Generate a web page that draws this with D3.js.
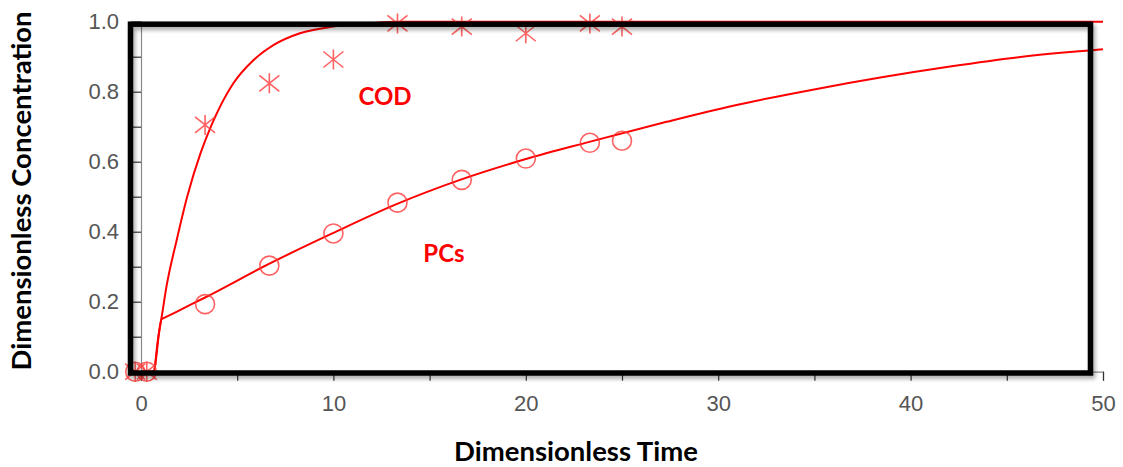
<!DOCTYPE html>
<html>
<head>
<meta charset="utf-8">
<script src="https://cdn.jsdelivr.net/npm/d3@7"></script>
<style>
  html, body { margin: 0; padding: 0; background: #fff; }
  svg { display: block; }
</style>
</head>
<body>
<div id="chart"></div>
<script>
// Measured breakthrough points (dimensionless time, dimensionless concentration)
const codTime = [-0.3, 0.3, 3.33, 6.67, 10, 13.33, 16.67, 20, 23.33, 25];
const codConc = [0, 0, 0.705, 0.824, 0.892, 0.995, 0.986, 0.967, 0.995, 0.986];
const pcsTime = [-0.3, 0.3, 3.33, 6.67, 10, 13.33, 16.67, 20, 23.33, 25];
const pcsConc = [0, 0, 0.193, 0.303, 0.395, 0.483, 0.548, 0.609, 0.654, 0.66];

// Model curves
const codFitTime = [0, 0.64, 0.9, 1.07, 1.33, 1.85, 2.40, 3.10, 3.67, 4.80, 5.84, 6.88, 8.26, 9.98, 11.73, 13.46, 20, 30, 40, 50];
const codFitConc = [0, 0, 0.10, 0.155, 0.245, 0.375, 0.50, 0.625, 0.705, 0.824, 0.89, 0.933, 0.967, 0.986, 0.995, 1.0, 1.0, 1.0, 1.0, 1.0];
const pcsFitTime = [0, 0.64, 1.07, 1.2, 2.2, 3.33, 6.65, 9.94, 13.25, 16.58, 19.96, 23.25, 27.32, 30.78, 35.12, 38.58, 42.05, 45.51, 50];
const pcsFitConc = [0, 0, 0.15, 0.1535, 0.181, 0.212, 0.308, 0.395, 0.478, 0.548, 0.607, 0.656, 0.714, 0.760, 0.808, 0.842, 0.872, 0.898, 0.921];

const xTicks = [0, 5, 10, 15, 20, 25, 30, 35, 40, 45, 50];
const yTicks = [0, 0.1, 0.2, 0.3, 0.4, 0.5, 0.6, 0.7, 0.8, 0.9, 1.0];

const W = 1123, H = 467;
const svg = d3.select("#chart").append("svg").attr("width", W).attr("height", H);

const x = d3.scaleLinear().domain([0, 50]).range([141, 1103]);
const y = d3.scaleLinear().domain([0, 1]).range([371.7, 21.7]);

const defs = svg.append("defs");
const shadow = defs.append("filter").attr("id", "frameShadow")
  .attr("x", "-5%").attr("y", "-5%").attr("width", "110%").attr("height", "110%");
shadow.append("feDropShadow").attr("dx", 2).attr("dy", 3).attr("stdDeviation", 2)
  .attr("flood-color", "#000").attr("flood-opacity", 0.35);

// Axes
const xAxis = d3.axisBottom(x).tickValues(xTicks).tickSize(9).tickPadding(15)
  .tickFormat(d => d % 10 === 0 ? d : "");
const gx = svg.append("g").attr("transform", `translate(0,${y(0)})`).call(xAxis);
gx.select(".domain").attr("stroke", "#888").attr("stroke-width", 1.2);
gx.selectAll(".tick line").attr("stroke", "#333").attr("stroke-width", 1.2);
gx.selectAll(".tick text").attr("font-family", "Liberation Sans, Arial, sans-serif")
  .attr("font-size", 22).attr("fill", "#555");

const yAxis = d3.axisLeft(y).tickValues(yTicks).tickSize(10).tickPadding(12)
  .tickFormat(d => Math.round(d * 10) % 2 === 0 ? d3.format(".1f")(d) : "");
const gy = svg.append("g").attr("transform", `translate(${x(0)},0)`).call(yAxis);
gy.select(".domain").attr("stroke", "#888").attr("stroke-width", 1.2);
gy.selectAll(".tick line").attr("stroke", "#333").attr("stroke-width", 1.2);
gy.selectAll(".tick text").attr("font-family", "Liberation Sans, Arial, sans-serif")
  .attr("font-size", 22).attr("fill", "#555");

// Fitted curves
const line = d3.line().x(d => x(d[0])).y(d => y(d[1])).curve(d3.curveMonotoneX);
svg.append("path").datum(d3.zip(codFitTime, codFitConc)).attr("d", line)
  .attr("fill", "none").attr("stroke", "#ff0000").attr("stroke-width", 2);
svg.append("path").datum(d3.zip(pcsFitTime, pcsFitConc)).attr("d", line)
  .attr("fill", "none").attr("stroke", "#ff0000").attr("stroke-width", 2);

// COD markers: six-armed asterisks
const star = "M0,-10L0,10M-10,-8L10,8M-10,8L10,-8";
svg.append("g").selectAll("path").data(d3.zip(codTime, codConc)).join("path")
  .attr("transform", d => `translate(${x(d[0])},${y(d[1])})`)
  .attr("d", star).attr("fill", "none")
  .attr("stroke", "#ff3b3b").attr("stroke-width", 1.6).attr("stroke-opacity", 0.8);

// PCs markers: open circles
svg.append("g").selectAll("circle").data(d3.zip(pcsTime, pcsConc)).join("circle")
  .attr("cx", d => x(d[0])).attr("cy", d => y(d[1])).attr("r", 9.5)
  .attr("fill", "none").attr("stroke", "#ff3b3b").attr("stroke-width", 1.6).attr("stroke-opacity", 0.8);

// Heavy outline around the plot area
svg.append("rect").attr("x", 130.5).attr("y", 24.2).attr("width", 960).attr("height", 348.8)
  .attr("fill", "none").attr("stroke", "#000").attr("stroke-width", 5.5)
  .attr("filter", "url(#frameShadow)");

// Series labels
const labelFont = "Lato, 'Open Sans', sans-serif";
svg.append("text").attr("x", 385).attr("y", 105).attr("text-anchor", "middle")
  .attr("font-family", labelFont).attr("font-weight", 700).attr("font-size", 24)
  .attr("fill", "#ff0000").text("COD");
svg.append("text").attr("x", 444).attr("y", 262).attr("text-anchor", "middle")
  .attr("font-family", labelFont).attr("font-weight", 700).attr("font-size", 24)
  .attr("fill", "#ff0000").text("PCs");

// Axis titles
svg.append("text").attr("x", 576).attr("y", 461).attr("text-anchor", "middle")
  .attr("font-family", labelFont).attr("font-weight", 700).attr("font-size", 27.5)
  .attr("fill", "#000").text("Dimensionless Time");
svg.append("text").attr("transform", "translate(31,191) rotate(-90)").attr("text-anchor", "middle")
  .attr("font-family", labelFont).attr("font-weight", 700).attr("font-size", 27.5)
  .attr("fill", "#000").text("Dimensionless Concentration");
</script>
</body>
</html>
